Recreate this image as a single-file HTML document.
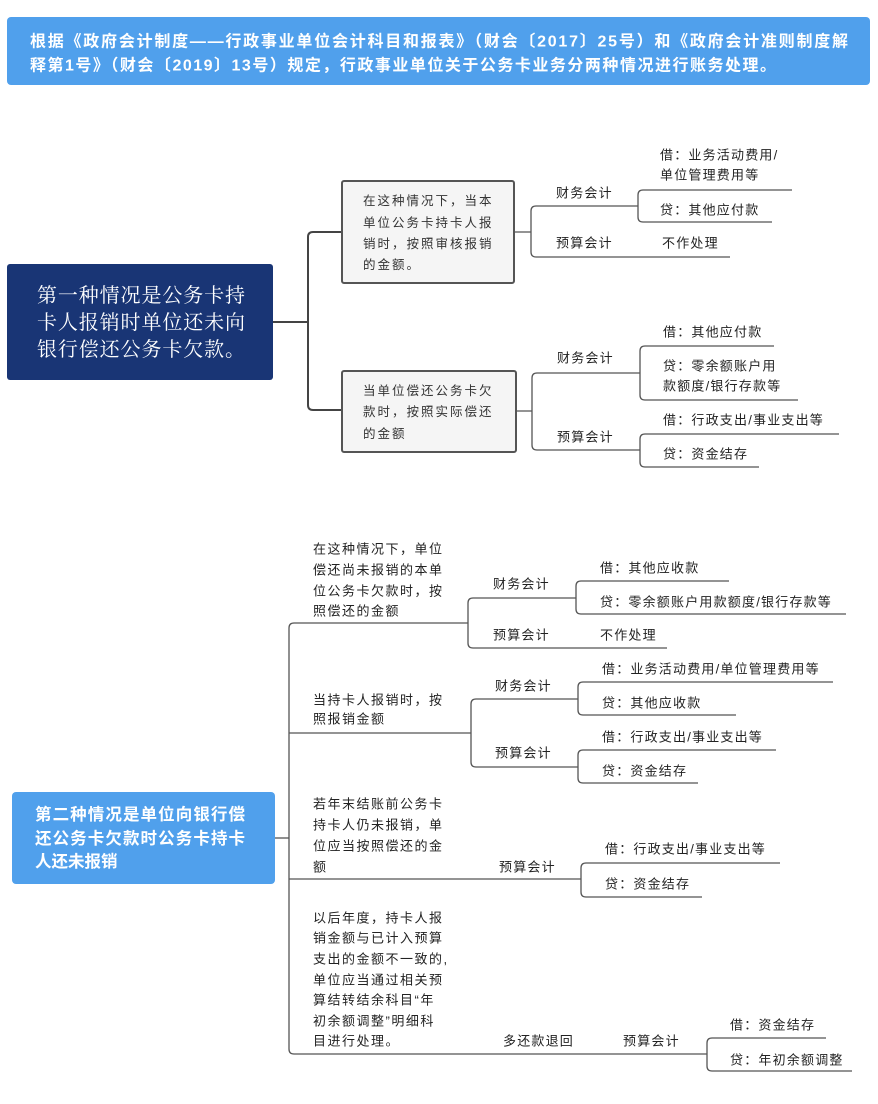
<!DOCTYPE html>
<html><head><meta charset="utf-8"><style>
html,body{margin:0;padding:0;background:#fff;}
svg{display:block;}
text{font-family:"Liberation Sans","Noto Sans CJK SC",sans-serif;font-size:13px;fill:#222;dominant-baseline:central;letter-spacing:1.2px;}
.h{font-size:16px;font-weight:bold;fill:#fff;letter-spacing:0;}
.b1{font-family:"Liberation Serif","Noto Serif CJK SC",serif;font-size:20px;fill:#fff;letter-spacing:0;}
.b2{font-size:16.5px;font-weight:bold;fill:#fff;letter-spacing:0;}
.t{font-size:12.5px;fill:#333;letter-spacing:2px;}
.l{letter-spacing:1.5px;}
path,line{fill:none;stroke:#555;stroke-width:1.3;}
.thick{stroke:#444;stroke-width:2;}
</style></head><body>
<svg width="878" height="1104" viewBox="0 0 878 1104" xmlns="http://www.w3.org/2000/svg">
<rect x="7" y="17" width="863" height="68" rx="4" fill="#50a0ec"/>
<text class="h" x="30" y="42" textLength="818" lengthAdjust="spacing">根据《政府会计制度——行政事业单位会计科目和报表》（财会〔2017〕25号）和《政府会计准则制度解</text>
<text class="h" x="30" y="66" textLength="746" lengthAdjust="spacing">释第1号》（财会〔2019〕13号）规定，行政事业单位关于公务卡业务分两种情况进行账务处理。</text>

<!-- section 1 -->
<rect x="7" y="264" width="266" height="116" rx="3" fill="#193575"/>
<text class="b1" x="37" y="296" textLength="208" lengthAdjust="spacing">第一种情况是公务卡持</text>
<text class="b1" x="37" y="323" textLength="208" lengthAdjust="spacing">卡人报销时单位还未向</text>
<text class="b1" x="37" y="350" textLength="208" lengthAdjust="spacing">银行偿还公务卡欠款。</text>
<path class="thick" d="M273 322 H308"/>
<path class="thick" d="M342 232 H313 Q308 232 308 237 V405 Q308 410 313 410 H342"/>
<rect x="342" y="181" width="172" height="102" rx="2" fill="#f5f5f5" stroke="#555" stroke-width="2"/>
<text class="t" x="363" y="201">在这种情况下，当本</text>
<text class="t" x="363" y="223">单位公务卡持卡人报</text>
<text class="t" x="363" y="244">销时，按照审核报销</text>
<text class="t" x="363" y="265">的金额。</text>
<rect x="342" y="371" width="174" height="81" rx="2" fill="#f5f5f5" stroke="#555" stroke-width="2"/>
<text class="t" x="363" y="391">当单位偿还公务卡欠</text>
<text class="t" x="363" y="412">款时，按照实际偿还</text>
<text class="t" x="363" y="434">的金额</text>

<path d="M514 232 H531 M638 206 H536 Q531 206 531 211 V252 Q531 257 536 257 H730"/>
<path d="M792 190 H643 Q638 190 638 195 V217 Q638 222 643 222 H772"/>
<text x="556" y="193">财务会计</text>
<text x="556" y="243">预算会计</text>
<text x="660" y="155">借：业务活动费用/</text>
<text x="660" y="175">单位管理费用等</text>
<text x="660" y="210">贷：其他应付款</text>
<text x="662" y="243">不作处理</text>

<path d="M516 411 H532 M640 373 H537 Q532 373 532 378 V445 Q532 450 537 450 H640"/>
<path d="M774 346 H645 Q640 346 640 351 V395 Q640 400 645 400 H798"/>
<path d="M839 434 H645 Q640 434 640 439 V462 Q640 467 645 467 H759"/>
<text x="557" y="358">财务会计</text>
<text x="557" y="437">预算会计</text>
<text x="663" y="332">借：其他应付款</text>
<text x="663" y="366">贷：零余额账户用</text>
<text x="663" y="386">款额度/银行存款等</text>
<text x="663" y="420">借：行政支出/事业支出等</text>
<text x="663" y="454">贷：资金结存</text>

<!-- section 2 -->
<rect x="12" y="792" width="263" height="92" rx="4" fill="#50a0ec"/>
<text class="b2" x="35" y="815" textLength="210" lengthAdjust="spacing">第二种情况是单位向银行偿</text>
<text class="b2" x="35" y="839" textLength="210" lengthAdjust="spacing">还公务卡欠款时公务卡持卡</text>
<text class="b2" x="35" y="862">人还未报销</text>
<path d="M275 838 H289"/>
<path d="M468 623 H294 Q289 623 289 628 V1049 Q289 1054 294 1054 H707"/>
<path d="M289 733 H471 M289 879 H581"/>

<text class="l" x="313" y="549">在这种情况下，单位</text>
<text class="l" x="313" y="570">偿还尚未报销的本单</text>
<text class="l" x="313" y="591">位公务卡欠款时，按</text>
<text class="l" x="313" y="611">照偿还的金额</text>
<path d="M576 598 H473 Q468 598 468 603 V643 Q468 648 473 648 H667"/>
<path d="M729 581 H581 Q576 581 576 586 V609 Q576 614 581 614 H846"/>
<text x="493" y="584">财务会计</text>
<text x="493" y="635">预算会计</text>
<text x="600" y="568">借：其他应收款</text>
<text x="600" y="602">贷：零余额账户用款额度/银行存款等</text>
<text x="600" y="635">不作处理</text>

<text class="l" x="313" y="700">当持卡人报销时，按</text>
<text class="l" x="313" y="719">照报销金额</text>
<path d="M578 699 H476 Q471 699 471 704 V762 Q471 767 476 767 H578"/>
<path d="M833 682 H583 Q578 682 578 687 V710 Q578 715 583 715 H736"/>
<path d="M776 750 H583 Q578 750 578 755 V778 Q578 783 583 783 H698"/>
<text x="495" y="686">财务会计</text>
<text x="495" y="753">预算会计</text>
<text x="602" y="669">借：业务活动费用/单位管理费用等</text>
<text x="602" y="703">贷：其他应收款</text>
<text x="602" y="737">借：行政支出/事业支出等</text>
<text x="602" y="771">贷：资金结存</text>

<text class="l" x="313" y="804">若年末结账前公务卡</text>
<text class="l" x="313" y="825">持卡人仍未报销，单</text>
<text class="l" x="313" y="846">位应当按照偿还的金</text>
<text class="l" x="313" y="867">额</text>
<path d="M780 863 H586 Q581 863 581 868 V892 Q581 897 586 897 H702"/>
<text x="499" y="867">预算会计</text>
<text x="605" y="849">借：行政支出/事业支出等</text>
<text x="605" y="884">贷：资金结存</text>

<text class="l" x="313" y="918">以后年度，持卡人报</text>
<text class="l" x="313" y="938">销金额与已计入预算</text>
<text class="l" x="313" y="959">支出的金额不一致的,</text>
<text class="l" x="313" y="980">单位应当通过相关预</text>
<text class="l" x="313" y="1000">算结转结余科目“年</text>
<text class="l" x="313" y="1021">初余额调整”明细科</text>
<text class="l" x="313" y="1041">目进行处理。</text>
<path d="M826 1038 H712 Q707 1038 707 1043 V1066 Q707 1071 712 1071 H852"/>
<text x="503" y="1041">多还款退回</text>
<text x="623" y="1041">预算会计</text>
<text x="730" y="1025">借：资金结存</text>
<text x="730" y="1060">贷：年初余额调整</text>
</svg>
</body></html>
